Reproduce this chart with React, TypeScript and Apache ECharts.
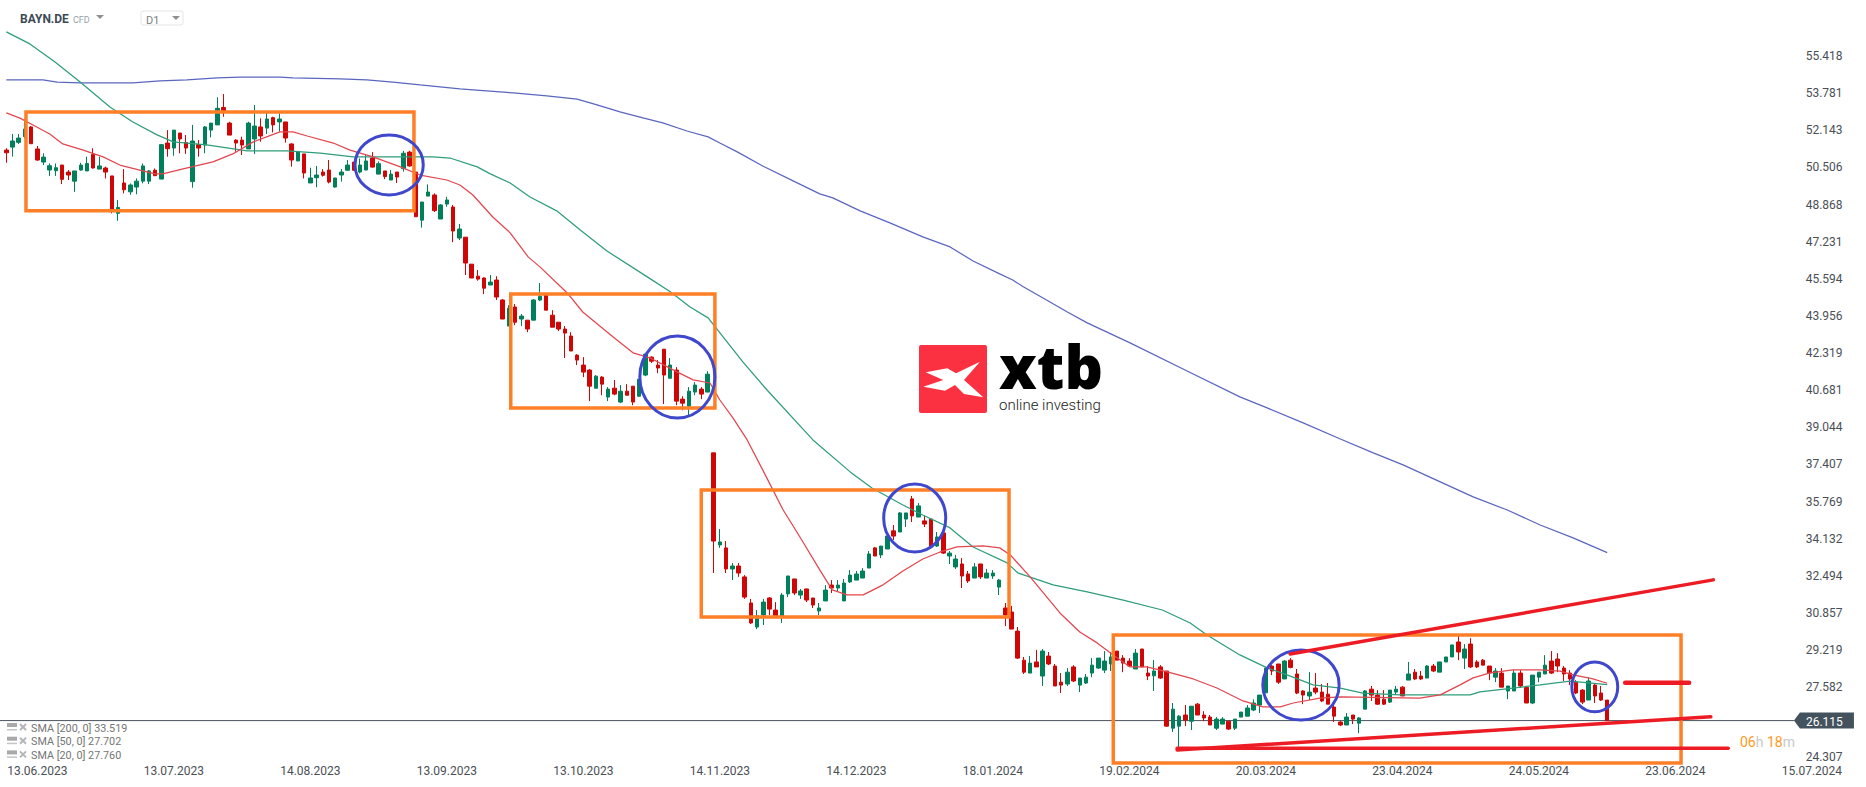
import React, { useEffect, useRef } from "react";
import * as echarts from "echarts";

// [open, close, low, high]
const candles: number[][] = [
[51.27,51.15,50.71,51.35],[51.40,51.67,50.98,51.98],[51.61,51.80,51.54,51.98],[51.86,52.20,51.79,52.63],[52.29,51.55,51.55,52.33],
[51.32,50.83,50.80,51.45],[50.74,50.96,50.61,51.13],[50.39,50.58,50.13,50.68],[50.36,50.49,50.13,50.68],[50.61,49.98,49.77,50.61],
[50.30,50.17,49.95,50.39],[49.90,50.35,49.43,50.35],[50.39,50.61,50.36,50.71],[50.35,50.68,50.35,50.98],[51.08,50.48,50.46,51.35],
[50.43,50.57,50.43,50.98],[50.48,50.30,50.02,50.54],[50.13,48.63,48.48,50.13],[48.48,48.74,48.15,49.07],[49.82,49.52,49.36,50.43],
[49.43,49.73,49.30,49.80],[49.64,49.90,49.32,50.02],[49.90,50.57,49.80,50.68],[49.90,50.35,49.77,50.39],[50.38,50.14,50.14,50.46],
[49.99,51.51,49.99,51.54],[51.58,51.33,50.98,52.15],[51.36,52.15,51.02,52.15],[52.02,51.76,51.13,52.02],[51.60,51.36,51.10,51.93],
[49.88,51.67,49.61,52.38],[51.51,51.36,50.98,51.71],[51.49,52.29,51.13,52.33],[52.15,52.46,51.83,52.46],[52.38,53.11,52.38,53.60],
[53.15,53.01,52.74,53.74],[52.46,51.93,51.93,52.52],[51.71,51.58,51.20,51.74],[51.71,51.49,51.05,51.86],[51.32,52.46,51.32,52.52],
[51.76,52.33,51.10,53.26],[52.29,51.89,51.64,52.67],[52.24,52.64,51.98,52.92],[52.70,52.38,52.05,52.74],[52.51,52.64,52.08,52.89],
[52.51,51.80,51.60,52.51],[51.54,50.83,50.54,51.57],[50.79,51.21,50.79,51.21],[51.10,50.26,50.02,51.10],[49.82,50.04,49.82,50.49],
[50.05,50.17,49.63,50.57],[50.30,50.16,50.10,50.43],[50.39,49.86,49.80,50.83],[49.64,50.04,49.61,50.04],[50.17,50.30,49.88,50.43],
[50.38,50.61,50.36,50.83],[50.74,50.38,50.36,50.74],[50.30,50.61,50.24,50.90],[50.39,50.79,50.39,51.05],[50.92,50.52,50.49,51.18],
[50.21,50.67,50.21,50.77],[50.35,50.10,49.99,50.35],[49.95,50.21,49.95,50.39],[50.30,50.08,49.82,50.30],[50.45,51.13,50.32,51.23],
[51.18,50.57,50.54,51.24],[50.30,48.33,48.33,50.30],[48.18,48.98,47.85,48.98],[49.24,49.42,49.24,49.76],[49.29,48.60,48.54,49.36],
[48.23,48.85,48.23,48.89],[48.89,49.07,48.77,49.21],[48.76,47.70,47.21,48.85],[47.39,47.79,47.30,48.01],[47.43,46.29,45.76,47.43],
[46.24,45.63,45.63,46.24],[45.71,45.58,45.51,45.98],[45.63,45.18,44.92,45.66],[45.32,45.45,45.32,45.76],[45.54,44.79,44.66,45.71],
[44.66,43.82,43.82,44.70],[43.51,44.30,43.51,44.43],[44.35,43.68,43.55,44.48],[43.82,43.95,43.51,44.04],[43.77,43.38,43.24,43.77],
[43.77,44.66,43.77,44.70],[44.66,44.83,44.61,45.41],[44.88,44.21,44.21,44.95],[43.99,43.46,43.46,44.21],[43.68,43.38,43.29,43.68],
[43.38,43.20,42.10,43.51],[43.07,42.41,42.41,43.24],[42.23,42.01,41.79,42.27],[41.79,41.48,41.26,42.14],[41.57,40.86,40.20,41.61],
[40.77,41.30,40.77,41.35],[41.26,40.95,40.46,41.30],[40.38,40.73,40.20,40.82],[40.77,40.51,40.46,41.13],[40.16,40.64,40.11,40.91],
[40.64,40.46,40.46,40.95],[40.86,40.16,40.02,40.86],[40.42,41.17,40.38,41.17],[41.35,42.27,41.30,42.32],[42.14,41.96,41.88,42.18],
[41.79,41.66,41.43,42.01],[42.49,41.35,40.07,42.49],[41.21,41.79,41.21,42.10],[41.57,40.20,40.02,41.70],[40.29,40.11,39.80,40.42],
[39.98,40.64,39.51,40.82],[40.60,40.91,40.46,41.04],[40.73,40.51,40.29,40.82],[40.60,41.39,40.60,41.52],[37.92,34.03,32.62,37.92],
[33.86,33.99,33.73,34.56],[33.73,32.80,32.62,34.03],[32.80,32.93,32.31,33.06],[32.93,32.62,32.45,33.06],[32.45,31.56,31.48,32.53],
[31.30,30.42,30.37,31.48],[30.24,30.73,30.15,30.99],[30.77,31.34,30.33,31.48],[31.52,31.03,30.77,31.56],[30.99,30.73,30.73,31.34],
[30.70,31.65,30.42,31.74],[31.70,32.49,31.56,32.49],[32.36,31.74,31.65,32.36],[31.65,31.83,31.48,31.92],[31.92,31.43,31.34,31.92],
[31.52,31.21,31.08,31.52],[30.95,31.08,30.77,31.30],[31.39,31.87,31.39,32.09],[32.09,31.96,31.74,32.31],[31.96,32.09,31.83,32.31],
[31.39,32.18,31.39,32.36],[32.23,32.53,32.18,32.75],[32.31,32.58,32.31,32.71],[32.40,32.71,32.40,32.84],[32.84,33.46,32.84,33.59],
[33.73,33.37,33.37,33.77],[33.42,33.81,33.28,33.81],[33.68,34.25,33.68,34.30],[34.48,34.25,34.08,34.74],[34.43,35.27,34.43,35.31],
[35.00,35.27,34.65,35.27],[35.89,35.14,34.87,36.02],[35.09,35.58,35.09,35.71],[34.92,34.78,34.65,35.14],[35.00,33.81,33.73,35.00],
[33.81,34.21,33.77,34.43],[34.39,33.50,33.46,34.39],[33.37,33.50,33.02,33.59],[32.89,33.24,32.80,33.42],[33.02,32.49,31.96,33.28],
[32.58,32.27,32.18,32.71],[32.40,32.89,32.40,33.06],[33.02,32.45,32.36,33.02],[32.40,32.62,32.40,32.80],[32.49,32.62,32.36,32.75],
[32.00,32.31,31.65,32.36],[31.08,30.77,30.28,31.30],[30.90,30.15,30.15,31.17],[30.06,28.87,28.83,30.24],[28.78,28.25,28.17,28.92],
[28.21,28.65,28.21,28.96],[28.70,28.48,28.48,29.23],[28.08,29.18,27.64,29.27],[28.96,28.61,28.56,29.14],[28.52,27.64,27.64,28.61],
[27.81,27.68,27.33,28.21],[27.73,28.25,27.64,28.43],[28.48,27.86,27.81,28.56],[27.68,27.99,27.37,27.99],[27.77,28.03,27.73,28.17],
[28.21,28.56,28.03,28.87],[28.43,28.87,28.39,28.87],[28.34,28.74,28.21,29.18],[28.61,28.92,28.30,29.14],[29.18,28.78,28.78,29.18],
[28.87,28.65,28.25,29.00],[28.74,28.52,28.48,28.87],[28.39,29.09,28.39,29.27],[29.27,28.48,28.48,29.27],[28.21,28.08,27.90,28.52],
[28.09,28.30,27.42,28.78],[28.48,27.99,27.95,28.56],[28.30,25.87,25.84,28.30],[25.78,26.62,25.61,26.89],[25.87,26.31,24.93,26.36],
[26.36,26.14,25.87,26.80],[26.09,26.75,25.70,26.75],[26.84,26.36,26.36,26.89],[26.36,26.23,26.09,26.53],[26.27,25.92,25.92,26.36],
[25.78,26.18,25.70,26.27],[25.96,26.18,25.96,26.27],[26.09,25.74,25.70,26.09],[25.78,26.18,25.70,26.18],[26.27,26.49,26.27,26.49],
[26.31,26.67,26.31,26.80],[26.58,26.89,26.53,27.05],[26.80,27.24,26.45,27.24],[27.34,28.43,27.34,28.49],[28.52,28.30,28.12,28.56],
[28.61,27.81,27.73,28.61],[27.95,28.74,27.95,28.78],[28.78,28.46,28.42,28.87],[28.17,27.33,27.28,28.39],[27.42,27.24,26.84,27.46],
[27.20,27.37,27.02,28.25],[27.55,27.37,27.28,28.21],[27.37,26.98,26.93,27.73],[27.28,26.84,26.84,27.77],[26.71,26.31,26.05,26.80],
[26.05,25.92,25.87,26.09],[25.92,26.27,25.92,26.45],[26.36,26.18,25.96,26.36],[26.00,26.23,25.56,26.27],[26.62,27.42,26.62,27.46],
[27.50,27.24,26.98,27.64],[27.24,26.84,26.80,27.46],[27.06,26.84,26.80,27.46],[26.93,27.46,26.89,27.46],[27.37,27.50,27.28,27.64],
[27.59,27.20,27.20,27.64],[27.90,28.17,27.90,28.70],[28.25,27.95,27.90,28.39],[28.08,27.95,27.90,28.30],[27.99,28.52,27.99,28.56],
[28.52,28.30,28.25,28.61],[28.25,28.70,28.25,28.70],[28.70,28.92,28.70,28.92],[28.92,29.45,28.92,29.45],[29.58,29.14,28.78,29.89],
[28.87,29.27,28.39,29.49],[29.49,28.48,28.43,29.75],[28.70,28.48,28.43,28.78],[28.78,28.56,28.56,28.83],[28.52,28.21,27.90,28.52],
[28.03,28.30,27.81,28.43],[28.21,27.59,27.59,28.43],[27.42,27.64,27.06,27.64],[27.42,28.21,27.42,28.34],[28.21,27.64,27.55,28.34],
[27.58,26.89,26.89,27.64],[26.89,28.12,26.84,28.12],[28.03,28.25,27.81,28.25],[28.17,28.56,28.17,29.00],[28.74,28.21,28.17,29.18],
[28.83,28.52,28.25,29.09],[28.43,28.17,27.86,28.52],[28.21,27.95,27.68,28.34],[27.81,27.33,27.28,27.90],[27.46,26.93,26.84,27.50],
[27.02,27.86,27.02,28.03],[27.68,27.20,26.89,27.77],[27.33,27.02,26.98,27.64],[27.02,26.115,26.115,27.02],
];

const sma20: number[][] = [
[0,52.91],[2.2,52.68],[4.9,52.29],[7,51.98],[9.1,51.54],[12.4,51.27],[15.6,50.97],[18.3,50.61],[21.5,50.39],[24,50.22],[25.2,50.22],[28.5,50.44],[33.3,50.75],[36.5,51.10],[39.8,51.63],[44.1,52.07],[46.2,52.07],[48.5,51.89],[52.7,51.58],[55.4,51.27],[59.1,50.97],[63.5,50.53],[66.7,50.17],[71,49.95],[73.1,49.73],[75.2,49.29],[78.4,48.32],[81.2,47.62],[84.1,46.56],[86,46.12],[90.4,44.97],[92.9,44.13],[97.8,43.03],[101,42.33],[103.7,42.11],[108.1,41.49],[110.7,41.14],[113.4,41.00],[115,40.25],[117.1,39.46],[119.4,38.49],[121.9,37.17],[125.2,35.40],[127.9,34.21],[131.1,32.76],[133.1,31.88],[135.5,31.66],[138.1,31.66],[141.3,32.10],[144.5,32.71],[147.7,33.24],[150.5,33.55],[153.2,33.77],[157.4,33.82],[160.1,33.73],[161.8,33.42],[165,32.45],[169.8,30.86],[173,30.02],[175.8,29.54],[178.4,29.01],[181.1,28.48],[183.8,28.48],[187.1,28.26],[191.3,27.95],[195.1,27.55],[199.3,26.98],[202.5,26.72],[205.3,26.72],[207.4,26.89],[211.7,27.11],[215,27.16],[227.8,27.11],[231.1,27.25],[234.3,27.69],[236.4,28.00],[239.1,28.22],[242.8,28.35],[247.2,28.35],[250.4,28.30],[252.5,28.13],[255.7,27.95],[258,27.76],
];

const sma50: number[][] = [
[0,56.48],[3.8,55.95],[7.8,55.16],[11.9,54.27],[16.7,53.17],[20.4,52.51],[24.3,51.94],[26.9,51.63],[32.3,51.50],[38.8,51.23],[45.2,51.23],[50.6,51.14],[55.9,50.97],[62.3,50.97],[68.8,50.97],[71.5,50.92],[75.9,50.53],[78,50.22],[81.2,49.82],[84.4,49.20],[88.7,48.59],[92.5,47.75],[96.8,46.82],[103.3,45.68],[107,45.02],[110.2,44.35],[113.1,43.87],[118.7,41.93],[122.6,40.69],[130,38.49],[136,37.08],[139.5,36.37],[144.5,35.62],[147.7,35.18],[152.1,34.61],[155.8,33.77],[161.3,33.07],[163,32.63],[168.7,32.10],[174.2,31.79],[180,31.43],[186.3,30.99],[190.8,30.42],[193.5,29.89],[198.8,29.01],[203.2,28.44],[206.4,28.13],[210.6,27.69],[215,27.55],[218.6,27.33],[224.6,27.25],[235.9,27.25],[237.5,27.38],[242.8,27.55],[247.2,27.69],[252,27.86],[258,27.70],
];

const sma200: number[][] = [
[0,54.36],[5.9,54.36],[8.2,54.27],[11.9,54.23],[20.4,54.23],[24.8,54.32],[29.1,54.36],[34,54.45],[37.7,54.49],[44.1,54.49],[46.2,54.45],[53.8,54.41],[58.1,54.36],[62.3,54.27],[66.7,54.14],[73.1,53.97],[81.7,53.79],[87.1,53.66],[92,53.52],[95.2,53.26],[98.9,52.95],[102.6,52.69],[105.8,52.47],[109.7,52.11],[113.1,51.85],[115,51.58],[117.8,51.19],[121.9,50.57],[126.8,49.91],[131.1,49.34],[133.2,49.16],[137.6,48.59],[142.4,48.06],[147.7,47.44],[152.1,47.00],[155.8,46.38],[160.1,45.81],[162.2,45.54],[163.9,45.24],[168.2,44.57],[171,44.13],[174.2,43.65],[181.1,42.77],[190.3,41.53],[198.8,40.39],[203.2,39.90],[209,39.24],[215,38.53],[220.3,37.92],[225.1,37.39],[231.1,36.64],[236.4,35.98],[241.9,35.40],[247.2,34.74],[252.5,34.17],[258,33.52],
];

const xTickLabels = ["13.06.2023","13.07.2023","14.08.2023","13.09.2023","13.10.2023","14.11.2023","14.12.2023","18.01.2024","19.02.2024","20.03.2024","23.04.2024","24.05.2024","23.06.2024","15.07.2024"];
const yTickValues = [55.418,53.781,52.143,50.506,48.868,47.231,45.594,43.956,42.319,40.681,39.044,37.407,35.769,34.132,32.494,30.857,29.219,27.582,24.307];
const LOWEST_LABEL_PLACED_AT = 24.51; // the chart nudges its lowest label up off the date row
const currentPrice = 26.115;

// drawings on the chart: [index1, price1, index2, price2]
const orangeBoxes = [[3.17,52.95,65.7,48.59],[81.3,44.92,114.2,39.90],[112,36.28,161.6,30.68],[178.4,29.89,269.9,24.24]];
const blueCircles = [[56.2,51.94,67.2,49.29],[102.1,43.07,114.2,39.46],[141.4,36.55,151.4,33.55],[202.5,29.23,214.8,26.14],[252.3,28.70,259.7,26.50]];
const redTrendLines = [[206.9,29.05,275.1,32.32],[188.7,24.82,274.7,26.28],[188.7,24.89,277.5,24.89]];
const redFlatMark = [[260.9,27.78,271.2,27.78]];

const legendRows = ["SMA [200, 0] 33.519", "SMA [50, 0] 27.702", "SMA [20, 0] 27.760"];

const N = 300;
const FIRST_TICK = 5;
const TICK_STEP = 22;
const categories = Array.from({ length: N }, (_, i) => {
  const k = (i - FIRST_TICK) / TICK_STEP;
  return Number.isInteger(k) && k >= 0 && k < xTickLabels.length ? xTickLabels[k] : "";
});

const FONT = "Roboto";

function lineSeries(name: string, data: number[][], color: string) {
  return {
    name,
    type: "line",
    xAxisIndex: 1,
    yAxisIndex: 0,
    data,
    showSymbol: false,
    smooth: false,
    z: 3,
    lineStyle: { color, width: 1.25 },
  };
}

function drawingSeries(data: number[][], z: number, make: (a: number[], b: number[]) => any) {
  return {
    type: "custom",
    xAxisIndex: 1,
    yAxisIndex: 0,
    data,
    z,
    clip: false,
    encode: { x: [0, 2], y: [1, 3] },
    renderItem: (_p: any, api: any) =>
      make(api.coord([api.value(0), api.value(1)]), api.coord([api.value(2), api.value(3)])),
  };
}

function legendGraphics() {
  const out: any[] = [];
  legendRows.forEach((text, i) => {
    const y = 728 + i * 13.7;
    out.push({ type: "rect", silent: true, shape: { x: 7, y: y - 5, width: 10, height: 4 }, style: { fill: "#a9a9a9" } });
    out.push({ type: "rect", silent: true, shape: { x: 7, y: y + 1, width: 10, height: 1.5 }, style: { fill: "#c4c4c4" } });
    out.push({ type: "line", silent: true, shape: { x1: 20, y1: y - 4, x2: 26, y2: y + 2 }, style: { stroke: "#b5b5b5", lineWidth: 2 } });
    out.push({ type: "line", silent: true, shape: { x1: 26, y1: y - 4, x2: 20, y2: y + 2 }, style: { stroke: "#b5b5b5", lineWidth: 2 } });
    out.push({ type: "text", silent: true, x: 31, y, style: { text, fill: "#757575", font: `10.8px ${FONT}`, textVerticalAlign: "middle" } });
  });
  return out;
}

export default function App() {
  const ref = useRef<HTMLDivElement>(null);
  useEffect(() => {
    document.body.style.margin = "0";
    const chart = echarts.init(ref.current!, undefined, { renderer: "svg" });
    chart.setOption({
      animation: false,
      backgroundColor: "#ffffff",
      grid: { left: 3.2, top: 0, width: 1861.5, height: 760, containLabel: false },
      xAxis: [
        {
          type: "category",
          data: categories,
          boundaryGap: true,
          axisLine: { show: false },
          axisTick: { show: false },
          splitLine: { show: false },
          axisLabel: {
            interval: (_i: number, v: string) => v !== "",
            margin: 5,
            color: "#4a4f55",
            fontFamily: FONT,
            fontSize: 12,
          },
        },
        { type: "value", min: -0.5, max: N - 0.5, show: false, splitLine: { show: false } },
      ],
      yAxis: {
        type: "value",
        position: "right",
        min: 24.377,
        max: 57.887,
        axisLine: { show: false },
        axisTick: { show: false },
        splitLine: { show: false },
        axisLabel: {
          inside: true,
          margin: 59,
          align: "left",
          color: "#4a4f55",
          fontFamily: FONT,
          fontSize: 12,
          customValues: yTickValues.map((v) => (v === 24.307 ? LOWEST_LABEL_PLACED_AT : v)),
          formatter: (v: number) => (v === LOWEST_LABEL_PLACED_AT ? "24.307" : v.toFixed(3)),
        },
      },
      series: [
        {
          name: "BAYN.DE",
          type: "candlestick",
          xAxisIndex: 0,
          yAxisIndex: 0,
          data: candles,
          barWidth: 4,
          z: 2,
          itemStyle: { color: "#00805a", color0: "#cf0606", borderColor: "#00805a", borderColor0: "#cf0606", borderWidth: 1 },
        },
        lineSeries("SMA 200", sma200, "#5a66bf"),
        lineSeries("SMA 50", sma50, "#2f9d7b"),
        lineSeries("SMA 20", sma20, "#e2464e"),
        {
          type: "custom",
          xAxisIndex: 1,
          yAxisIndex: 0,
          data: [[288.1, currentPrice]],
          clip: false,
          z: 2,
          encode: { x: 0, y: 1 },
          renderItem: (_p: any, api: any) => {
            const [tipX, y] = api.coord([api.value(0), api.value(1)]);
            return {
              type: "group",
              children: [
                { type: "line", shape: { x1: 0, y1: y, x2: tipX, y2: y }, style: { stroke: "#4b5560", lineWidth: 1 } },
                {
                  type: "polygon",
                  shape: { points: [[tipX, y], [tipX + 6, y - 8], [tipX + 60, y - 8], [tipX + 60, y + 8], [tipX + 6, y + 8]] },
                  style: { fill: "#44525e" },
                },
                {
                  type: "text",
                  x: tipX + 12,
                  y: y + 1,
                  style: { text: currentPrice.toFixed(3), fill: "#ffffff", font: `12px ${FONT}`, textVerticalAlign: "middle" },
                },
              ],
            };
          },
        },
        drawingSeries(orangeBoxes, 5, (a, b) => ({
          type: "rect",
          shape: { x: a[0], y: a[1], width: b[0] - a[0], height: b[1] - a[1] },
          style: { fill: "none", stroke: "#ff7f27", lineWidth: 3.5 },
        })),
        drawingSeries(blueCircles, 6, (a, b) => ({
          type: "ellipse",
          shape: { cx: (a[0] + b[0]) / 2, cy: (a[1] + b[1]) / 2, rx: (b[0] - a[0]) / 2, ry: (b[1] - a[1]) / 2 },
          style: { fill: "none", stroke: "#3f48cc", lineWidth: 3 },
        })),
        drawingSeries(redTrendLines, 7, (a, b) => ({
          type: "line",
          shape: { x1: a[0], y1: a[1], x2: b[0], y2: b[1] },
          style: { stroke: "#ed1c24", lineWidth: 3.5, lineCap: "round" },
        })),
        drawingSeries(redFlatMark, 7, (a, b) => ({
          type: "line",
          shape: { x1: a[0], y1: a[1], x2: b[0], y2: b[1] },
          style: { stroke: "#ed1c24", lineWidth: 4.5, lineCap: "round" },
        })),
      ],
      graphic: [
        { type: "text", silent: true, x: 20, y: 19, style: { text: "BAYN.DE", fill: "#3c4a55", font: `bold 12px ${FONT}`, textVerticalAlign: "middle" } },
        { type: "text", silent: true, x: 73, y: 19.5, style: { text: "CFD", fill: "#9aa1a6", font: `9px ${FONT}`, textVerticalAlign: "middle" } },
        { type: "polygon", silent: true, shape: { points: [[96, 15], [104, 15], [100, 19]] }, style: { fill: "#8c9094" } },
        { type: "rect", silent: true, shape: { x: 141, y: 11, width: 42, height: 14, r: 2 }, style: { fill: "#ffffff", stroke: "#e3e5e7", lineWidth: 1 } },
        { type: "text", silent: true, x: 146, y: 20, style: { text: "D1", fill: "#7b8084", font: `11px ${FONT}`, textVerticalAlign: "middle" } },
        { type: "polygon", silent: true, shape: { points: [[172, 16], [180, 16], [176, 20]] }, style: { fill: "#8c9094" } },
        ...legendGraphics(),
        {
          type: "text",
          silent: true,
          x: 1740,
          y: 742,
          z: 10,
          style: {
            text: "{o|06}{g|h} {o|18}{g|m}",
            textVerticalAlign: "middle",
            font: `14px ${FONT}`,
            rich: {
              o: { fill: "#ff9a1f", font: `14px ${FONT}`, fontSize: 14, fontFamily: FONT },
              g: { fill: "#c9c9c9", font: `14px ${FONT}`, fontSize: 14, fontFamily: FONT },
            },
          },
        },
        { type: "rect", silent: true, shape: { x: 919, y: 345, width: 68, height: 68, r: 2 }, style: { fill: "#fb3040" } },
        {
          type: "polygon",
          silent: true,
          shape: { points: [[923.3, 386.7], [943.3, 380], [925.7, 372.3], [947.3, 368.3], [956, 373.3], [980, 361.7], [964, 380], [983.3, 397.3], [964, 394], [955, 385], [945, 390.7]] },
          style: { fill: "#ffffff" },
        },
        { type: "text", silent: true, x: 999, y: 396, style: { text: "xtb", fill: "#000000", font: `800 60px "Open Sans"`, textVerticalAlign: "bottom" } },
        { type: "text", silent: true, x: 999, y: 405, style: { text: "online investing", fill: "#1a1a1a", font: `300 15px ${FONT}`, textVerticalAlign: "middle" } },
      ],
    });
    return () => chart.dispose();
  }, []);
  return <div ref={ref} style={{ position: "fixed", left: 0, top: 0, width: 1866, height: 787 }} />;
}
